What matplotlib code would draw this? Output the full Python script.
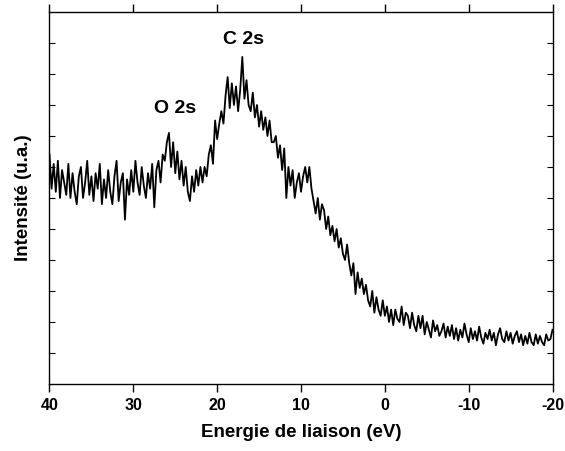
import numpy as np
import matplotlib
matplotlib.use("Agg")
import matplotlib.pyplot as plt

plt.rcParams['font.family'] = ['Liberation Sans', 'DejaVu Sans']
plt.rcParams['font.weight'] = 'bold'
plt.rcParams['axes.unicode_minus'] = False

# binding energy grid (eV), 0.25 eV step, from 40 down to -20
energy = np.linspace(40, -20, 241)

# intensity (arb. units)
intensity = [
    7.4, 6.3, 7.1,
    6.2, 7.2, 6.0, 6.9,   6.5, 6.1, 7.1, 6.0,   6.8, 6.2, 5.8, 6.7,
    7.0, 6.0, 6.5, 7.2,   6.1, 6.7, 5.9, 6.8,   6.3, 7.1, 5.8, 6.6,
    6.0, 6.9, 6.2, 5.8,   6.7, 7.2, 5.9, 6.5,   6.8, 5.3, 6.6, 6.1,
    6.9, 6.2, 7.2, 6.5,   6.1, 7.0, 6.4, 6.0,   6.8, 6.3, 7.1, 5.7,
    6.9, 7.2, 6.5, 7.4,   7.2, 7.8, 8.1, 7.0,   7.8, 6.8, 7.5, 6.6,
    7.2, 6.4, 7.0, 6.2,   5.9, 6.7, 6.2, 6.9,   6.4, 7.0, 6.5, 7.0,
    6.7, 7.4, 7.7, 7.1,   8.5, 7.9, 8.4, 8.8,   8.4, 9.3, 9.9, 8.9,
    9.7, 9.0, 9.6, 8.8,   9.5, 10.55, 9.2, 9.8, 9.0, 8.8, 9.4, 8.6,
    9.0, 8.3, 8.8, 8.2,   8.6, 8.0, 8.5, 7.8,   7.8, 8.0, 7.3, 7.7,
    6.9, 7.6, 6.0, 7.0,   6.4, 6.9, 6.0, 6.5,   6.8, 6.2, 6.7, 7.0,
    6.5, 7.0, 6.3, 5.9,   5.5, 6.0, 5.3, 5.8,   5.6, 5.0, 5.4, 4.8,
    5.1, 4.6, 5.0, 4.4,   4.7, 4.2, 4.0, 4.5,   3.9, 3.5, 3.9, 2.9,
    3.6, 3.1, 3.4, 2.9,   3.2, 2.7, 2.5, 3.0,   2.3, 2.8, 2.4, 2.2,
    2.7, 2.2, 2.5, 2.0,   2.4, 1.9, 2.4, 2.1,   2.0, 2.5, 1.9, 2.3,
    2.2, 1.8, 2.3, 1.9,   1.7, 2.2, 1.8, 2.2,   1.6, 2.0, 1.75, 1.5,
    2.05, 1.7, 1.9, 1.55, 1.7, 1.95, 1.5, 1.85, 1.55, 1.9, 1.45, 1.8,
    1.4, 1.75, 1.5, 1.95, 1.6, 1.35, 1.8, 1.45, 1.7, 1.4, 1.85, 1.5,
    1.3, 1.65, 1.45, 1.75, 1.4, 1.65, 1.25, 1.6, 1.8, 1.45, 1.35, 1.7,
    1.4, 1.65, 1.3, 1.55, 1.7, 1.35, 1.6, 1.25, 1.55, 1.3, 1.65, 1.35,
    1.25, 1.6, 1.3, 1.55, 1.35, 1.25, 1.6, 1.4,
    1.45, 1.75,
]

peak_labels = ["O 2s", "C 2s"]
peak_pos = [(25.0, 8.9), (16.9, 11.1)]

fig = plt.figure(figsize=(5.65, 4.51), dpi=100)
ax = fig.add_axes([0.0876, 0.1486, 0.8903, 0.8248])

ax.plot(energy, intensity, color='black', linewidth=1.3)

for lab, (x, y) in zip(peak_labels, peak_pos):
    ax.text(x, y, lab, ha='center', va='center', fontsize=14, fontweight='bold')

ax.set_xlim(40, -20)
ax.set_ylim(0, 12)
ax.set_xticks([40, 30, 20, 10, 0, -10, -20])
ax.set_yticks(range(1, 12))
ax.set_yticklabels([])

ax.tick_params(axis='x', direction='out', length=6, width=1, labelsize=11.5, pad=4)
ax.tick_params(axis='x', top=True, labeltop=False)
ax.tick_params(axis='y', direction='in', length=4, width=0.8, left=True, right=True)
for t in ax.get_xticklabels():
    t.set_fontweight('bold')

ax.set_xlabel("Energie de liaison (eV)", fontsize=13.5, fontweight='bold', labelpad=8)
ax.set_ylabel("Intensité (u.a.)", fontsize=13.5, fontweight='bold', labelpad=9)

for s in ax.spines.values():
    s.set_linewidth(1.0)

fig.savefig("out.png", dpi=100)
